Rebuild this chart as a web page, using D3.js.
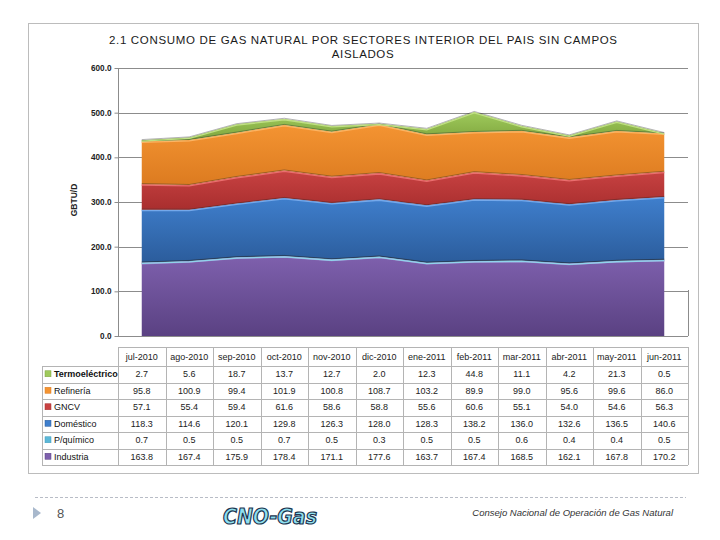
<!DOCTYPE html>
<html>
<head>
<meta charset="utf-8">
<script src="https://cdn.jsdelivr.net/npm/d3@7"></script>
<style>
body { margin: 0; background: #fff; }
</style>
</head>
<body>
<script>
var months = ["jul-2010", "ago-2010", "sep-2010", "oct-2010", "nov-2010", "dic-2010",
	"ene-2011", "feb-2011", "mar-2011", "abr-2011", "may-2011", "jun-2011"];
var seriesNames = ["Termoeléctrico", "Refinería", "GNCV", "Doméstico", "P/químico", "Industria"];
var termo = [2.7, 5.6, 18.7, 13.7, 12.7, 2.0, 12.3, 44.8, 11.1, 4.2, 21.3, 0.5];
var refineria = [95.8, 100.9, 99.4, 101.9, 100.8, 108.7, 103.2, 89.9, 99.0, 95.6, 99.6, 86.0];
var gncv = [57.1, 55.4, 59.4, 61.6, 58.6, 58.8, 55.6, 60.6, 55.1, 54.0, 54.6, 56.3];
var domestico = [118.3, 114.6, 120.1, 129.8, 126.3, 128.0, 128.3, 138.2, 136.0, 132.6, 136.5, 140.6];
var pquimico = [0.7, 0.5, 0.5, 0.7, 0.5, 0.3, 0.5, 0.5, 0.6, 0.4, 0.4, 0.5];
var industria = [163.8, 167.4, 175.9, 178.4, 171.1, 177.6, 163.7, 167.4, 168.5, 162.1, 167.8, 170.2];
var yTicks = [0, 100, 200, 300, 400, 500, 600];

var values = [termo, refineria, gncv, domestico, pquimico, industria];
// colors: [top, bottom, edge]
var colors = {
	"Termoeléctrico": ["#9fca5c", "#7ea43c", "#c0e084"],
	"Refinería": ["#f49432", "#dc7b20", "#fbb464"],
	"GNCV": ["#c84242", "#a82e2e", "#ea6e6e"],
	"Doméstico": ["#3f7fcd", "#2b5c9b", "#74a8ea"],
	"P/químico": ["#5cb8d8", "#3f9cbc", "#8fd4ec"],
	"Industria": ["#7e60ad", "#5a4182", "#a28ace"]
};

var width = 720, height = 540;
var svg = d3.select("body")
	.append("svg")
	.attr("width", width)
	.attr("height", height)
	.style("font-family", "'Liberation Sans', Arial, sans-serif");

// outer frame
svg.append("rect")
	.attr("x", 28.5).attr("y", 23.5)
	.attr("width", 670).attr("height", 450)
	.attr("fill", "#fff")
	.attr("stroke", "#bcbcbc");

// title
svg.append("text")
	.attr("x", 363).attr("y", 44)
	.attr("text-anchor", "middle")
	.attr("font-size", 11.5)
	.attr("fill", "#1a1a1a")
	.attr("textLength", 508)
	.attr("lengthAdjust", "spacing")
	.text("2.1  CONSUMO DE GAS NATURAL POR SECTORES INTERIOR DEL PAIS SIN CAMPOS");
svg.append("text")
	.attr("x", 363).attr("y", 58)
	.attr("text-anchor", "middle")
	.attr("font-size", 11.5)
	.attr("fill", "#1a1a1a")
	.attr("letter-spacing", 0.6)
	.text("AISLADOS");

var pLeft = 118, pRight = 688, pTop = 68, pBottom = 336;

var xScale = d3.scaleBand()
	.domain(months)
	.range([pLeft, pRight]);
var yScale = d3.scaleLinear()
	.domain([0, 600])
	.range([pBottom, pTop]);
function xc(m) { return xScale(m) + xScale.bandwidth() / 2; }

// gridlines
svg.append("g")
	.selectAll("line")
	.data(yTicks.slice(1))
	.enter().append("line")
	.attr("x1", pLeft).attr("x2", pRight)
	.attr("y1", function(d) { return Math.round(yScale(d)) + 0.5; })
	.attr("y2", function(d) { return Math.round(yScale(d)) + 0.5; })
	.attr("stroke", "#8c8c8c");

// stacked data, bottom to top
var rows = months.map(function(m, i) {
	var r = {month: m};
	seriesNames.forEach(function(s, j) { r[s] = values[j][i]; });
	return r;
});
var stackKeys = seriesNames.slice().reverse();
var stacked = d3.stack().keys(stackKeys)(rows);

// gradients
var defs = svg.append("defs");
stackKeys.forEach(function(k, i) {
	var g = defs.append("linearGradient")
		.attr("id", "grad" + i)
		.attr("x1", 0).attr("y1", 0).attr("x2", 0).attr("y2", 1);
	g.append("stop").attr("offset", "0%").attr("stop-color", colors[k][0]);
	g.append("stop").attr("offset", "100%").attr("stop-color", colors[k][1]);
});

var area = d3.area()
	.x(function(d) { return xc(d.data.month); })
	.y0(function(d) { return yScale(d[0]); })
	.y1(function(d) { return yScale(d[1]); });
var topLine = d3.line()
	.x(function(d) { return xc(d.data.month); })
	.y(function(d) { return yScale(d[1]); });

var layers = svg.append("g");
layers.selectAll("path.area")
	.data(stacked)
	.enter().append("path")
	.attr("class", "area")
	.attr("d", area)
	.attr("fill", function(d, i) { return "url(#grad" + i + ")"; });

// dark seam and light edge on each layer top
layers.selectAll("path.seam")
	.data(stacked)
	.enter().append("path")
	.attr("class", "seam")
	.attr("d", topLine)
	.attr("fill", "none")
	.attr("stroke", "rgba(40,40,40,0.45)")
	.attr("stroke-width", 0.8)
	.attr("transform", "translate(0,-0.6)");
layers.selectAll("path.edge")
	.data(stacked)
	.enter().append("path")
	.attr("class", "edge")
	.attr("d", topLine)
	.attr("fill", "none")
	.attr("stroke", function(d) { return colors[d.key][2]; })
	.attr("stroke-width", 1.3)
	.attr("transform", "translate(0,0.9)");

// y axis
var yAxis = svg.append("g")
	.attr("transform", "translate(" + (pLeft + 0.5) + ",0)")
	.call(d3.axisLeft(yScale).tickValues(yTicks).tickSize(4).tickFormat(d3.format(".1f")));
yAxis.select(".domain").attr("stroke", "#8c8c8c").attr("d", "M0," + pTop + "V" + pBottom);
yAxis.selectAll(".tick line").attr("stroke", "#8c8c8c");
yAxis.selectAll("text")
	.attr("x", -7)
	.attr("font-size", 8.2)
	.attr("font-family", "'Liberation Sans', Arial, sans-serif")
	.attr("font-weight", "bold")
	.attr("fill", "#222");

// x axis line and right border
svg.append("line")
	.attr("x1", pLeft).attr("x2", pRight)
	.attr("y1", pBottom + 0.5).attr("y2", pBottom + 0.5)
	.attr("stroke", "#8c8c8c");
svg.append("line")
	.attr("x1", pRight + 0.5).attr("x2", pRight + 0.5)
	.attr("y1", pTop + 222).attr("y2", pBottom)
	.attr("stroke", "#8c8c8c");

// y title
svg.append("text")
	.attr("transform", "translate(77,200) rotate(-90)")
	.attr("text-anchor", "middle")
	.attr("font-size", 8.5)
	.attr("font-weight", "bold")
	.attr("fill", "#222")
	.text("GBTU/D");

// data table
var tTop = 347, headH = 19, rowH = 16.5, tLeft = 42;
var table = svg.append("g");
var lineColor = "#b4b4b4";
// horizontal lines
table.append("line")
	.attr("x1", pLeft).attr("x2", pRight)
	.attr("y1", tTop + 0.5).attr("y2", tTop + 0.5)
	.attr("stroke", lineColor);
table.selectAll("line.row")
	.data(d3.range(seriesNames.length + 1))
	.enter().append("line")
	.attr("class", "row")
	.attr("x1", tLeft).attr("x2", pRight)
	.attr("y1", function(d) { return Math.round(tTop + headH + d * rowH) + 0.5; })
	.attr("y2", function(d) { return Math.round(tTop + headH + d * rowH) + 0.5; })
	.attr("stroke", lineColor);
// vertical lines
table.selectAll("line.col")
	.data(months.concat(["end"]))
	.enter().append("line")
	.attr("class", "col")
	.attr("x1", function(d) { return d == "end" ? pRight + 0.5 : Math.round(xScale(d)) + 0.5; })
	.attr("x2", function(d) { return d == "end" ? pRight + 0.5 : Math.round(xScale(d)) + 0.5; })
	.attr("y1", tTop)
	.attr("y2", tTop + headH + seriesNames.length * rowH)
	.attr("stroke", lineColor);
table.append("line")
	.attr("x1", tLeft + 0.5).attr("x2", tLeft + 0.5)
	.attr("y1", tTop + headH)
	.attr("y2", tTop + headH + seriesNames.length * rowH)
	.attr("stroke", lineColor);

// header labels
table.selectAll("text.head")
	.data(months)
	.enter().append("text")
	.attr("class", "head")
	.attr("x", xc)
	.attr("y", tTop + 12.5)
	.attr("text-anchor", "middle")
	.attr("font-size", 9)
	.attr("fill", "#222")
	.text(function(d) { return d; });

// rows
seriesNames.forEach(function(s, j) {
	var cy = tTop + headH + j * rowH + rowH / 2 + 3;
	table.append("rect")
		.attr("x", 45).attr("y", cy - 6.5)
		.attr("width", 6).attr("height", 6)
		.attr("fill", colors[s][0])
		.attr("stroke", colors[s][1])
		.attr("stroke-width", 0.5);
	table.append("text")
		.attr("x", 54).attr("y", cy)
		.attr("font-size", 9)
		.attr("font-weight", j == 0 ? "bold" : "normal")
		.attr("fill", "#111")
		.text(s);
	table.selectAll("text.v" + j)
		.data(values[j])
		.enter().append("text")
		.attr("class", "v" + j)
		.attr("x", function(d, i) { return xc(months[i]); })
		.attr("y", cy)
		.attr("text-anchor", "middle")
		.attr("font-size", 9)
		.attr("fill", "#222")
		.text(function(d) { return d3.format(".1f")(d); });
});

// footer
svg.append("line")
	.attr("x1", 35).attr("x2", 686)
	.attr("y1", 497.5).attr("y2", 497.5)
	.attr("stroke", "#b8bcc6")
	.attr("stroke-dasharray", "3,2");
svg.append("path")
	.attr("d", "M33,507 L41,513 L33,519 Z")
	.attr("fill", "#a8b8cc");
svg.append("text")
	.attr("x", 57).attr("y", 518)
	.attr("font-size", 13)
	.attr("fill", "#555")
	.text("8");
svg.append("text")
	.attr("x", 270).attr("y", 524)
	.attr("text-anchor", "middle")
	.attr("font-family", "'DejaVu Sans Condensed', 'DejaVu Sans', sans-serif")
	.attr("font-size", 22)
	.attr("font-weight", "bold")
	.attr("font-style", "italic")
	.attr("fill", "#8ee0f0")
	.attr("stroke", "#1c3550")
	.attr("stroke-width", 1.2)
	.attr("textLength", 94)
	.attr("lengthAdjust", "spacingAndGlyphs")
	.text("CNO-Gas");
svg.append("text")
	.attr("x", 673).attr("y", 516)
	.attr("text-anchor", "end")
	.attr("font-size", 9.5)
	.attr("font-style", "italic")
	.attr("fill", "#333")
	.text("Consejo Nacional de Operación de Gas Natural");
</script>
</body>
</html>
